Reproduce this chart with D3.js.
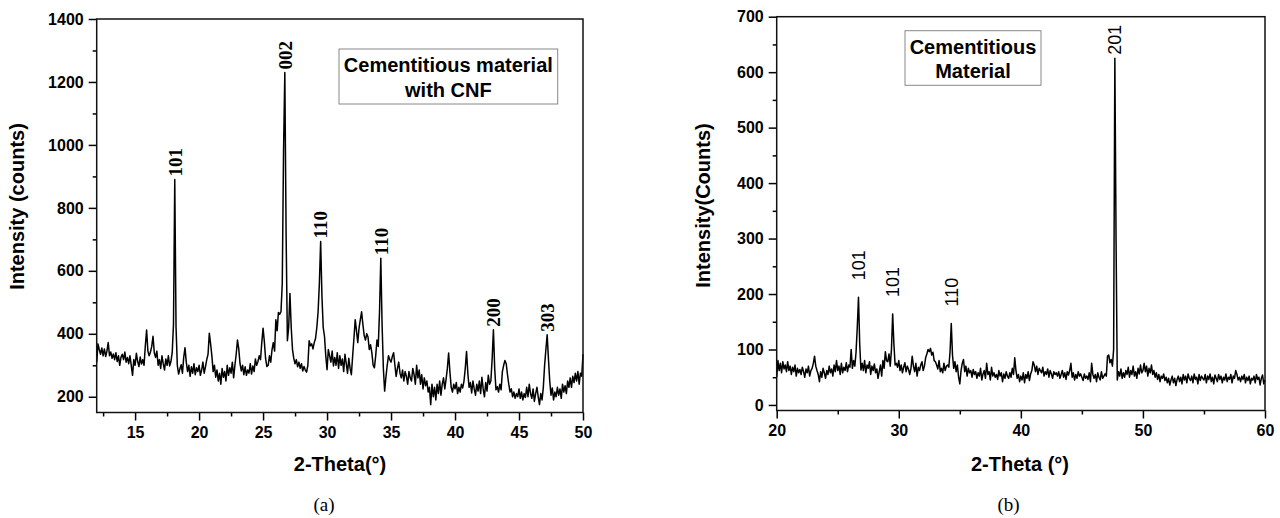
<!DOCTYPE html>
<html>
<head>
<meta charset="utf-8">
<script src="https://cdn.jsdelivr.net/npm/d3@7"></script>
<style>
  html, body { margin: 0; padding: 0; background: #fff; }
  svg { display: block; }
  .tick text { font-family: Arial, "Liberation Sans", sans-serif; font-weight: bold; font-size: 16px; fill: #000; }
  .tick line { stroke: #000; stroke-width: 1.5px; }
</style>
</head>
<body>
<svg id="fig" width="1280" height="518"></svg>
<script>
// ---- (a) cementitious material with CNF: 2θ from 12° to 50°, 0.1° step ----
const thetaStartA = 12.0;
const thetaStepA = 0.1;
const intensityA = [
  310, 368, 350, 335, 355, 330, 352, 328, 345, 372,
  330, 342, 322, 336, 318, 340, 312, 330, 300, 326,
  335, 318, 342, 310, 325, 305, 330, 300, 268, 318,
  300, 338, 312, 296, 326, 304, 318, 300, 362, 412,
  345, 330, 342, 360, 392, 340, 325, 345, 300, 318,
  290, 330, 305, 285, 320, 300, 330, 298, 312, 340,
  430, 890, 420, 300, 272, 288, 302, 275, 325, 356,
  310, 280, 300, 265, 295, 275, 305, 270, 292, 280,
  300, 268, 285, 310, 275, 295, 318, 335, 402, 368,
  330, 280, 300, 262, 285, 250, 275, 240, 290, 262,
  280, 250, 300, 268, 292, 275, 310, 260, 300, 335,
  380, 352, 305, 282, 300, 270, 295, 268, 285, 275,
  305, 272, 298, 280, 320, 300, 312, 330, 318, 372,
  418, 375, 320, 296, 300, 330, 310, 350, 372, 345,
  445, 410, 468, 462, 470, 560, 980, 1230, 720, 378,
  420, 528, 420, 350, 322, 305, 318, 295, 310, 290,
  305, 282, 296, 285, 278, 300, 378, 362, 368, 352,
  372, 385, 420, 470, 560, 693, 520, 420, 392, 330,
  286, 350, 330, 310, 345, 298, 325, 300, 340, 290,
  330, 300, 320, 280, 335, 305, 275, 322, 290, 270,
  330, 385, 445, 410, 372, 418, 445, 470, 430, 395,
  380, 400, 390, 350, 365, 340, 300, 292, 330, 380,
  360, 470, 640, 430, 290, 218, 262, 300, 330, 318,
  310, 328, 340, 300, 265, 290, 310, 275, 260, 285,
  250, 280, 265, 240, 280, 260, 250, 290, 270, 240,
  300, 260, 285, 240, 270, 225, 260, 235, 250, 215,
  230, 175, 240, 200, 230, 190, 240, 210, 250, 205,
  240, 260, 225, 255, 290, 339, 280, 230, 215, 240,
  225, 245, 210, 230, 215, 240, 228, 250, 290, 344,
  275, 230, 245, 212, 250, 225, 205, 240, 218, 250,
  210, 262, 225, 200, 245, 218, 268, 240, 250, 320,
  413, 290, 222, 232, 215, 240, 222, 280, 300, 315,
  305, 270, 240, 215, 225, 200, 215, 195, 210, 200,
  225, 195, 215, 190, 210, 198, 230, 200, 240, 210,
  195, 225, 185, 210, 230, 200, 175, 210, 190, 230,
  300, 350, 397, 320, 250, 205, 228, 190, 215, 200,
  230, 205, 225, 195, 240, 215, 235, 210, 250, 230,
  260, 230, 265, 245, 275, 250, 280, 240, 275, 265,
  335
];
const peaksA = [
  { hkl: "101", at: 18.1 },
  { hkl: "002", at: 26.7 },
  { hkl: "110", at: 29.5 },
  { hkl: "110", at: 34.2 },
  { hkl: "200", at: 43.0 },
  { hkl: "303", at: 47.2 }
];
const xTicksA = [15, 20, 25, 30, 35, 40, 45, 50];
const xMinorA = [12.5, 17.5, 22.5, 27.5, 32.5, 37.5, 42.5, 47.5];
const yTicksA = [200, 400, 600, 800, 1000, 1200, 1400];
const yMinorA = [300, 500, 700, 900, 1100, 1300];
const legendA = ["Cementitious material", "with CNF"];

// ---- (b) cementitious material: 2θ from 20° to 60°, 0.1° step ----
const thetaStartB = 20.0;
const thetaStepB = 0.1;
const intensityB = [
  50, 80, 62, 75, 58, 78, 65, 72, 60, 78,
  62, 70, 55, 68, 60, 72, 52, 66, 58, 64,
  55, 68, 60, 50, 65, 58, 70, 52, 62, 66,
  75, 88, 70, 62, 55, 42, 60, 50, 66, 58,
  48, 62, 55, 70, 58, 65, 52, 72, 60, 80,
  62, 70, 55, 75, 58, 68, 62, 76, 60, 72,
  68, 100, 66, 80, 70, 95, 140, 194, 110, 63,
  75, 62, 80, 58, 72, 66, 78, 55, 70, 62,
  74, 58, 65, 48, 60, 72, 52, 80, 66, 96,
  80, 78, 92, 70, 100, 164, 110, 72, 75, 68,
  80, 62, 72, 58, 68, 76, 60, 70, 64, 55,
  66, 88, 70, 60, 75, 52, 68, 62, 72, 78,
  62, 70, 85, 92, 100, 96, 102, 90, 95, 80,
  78, 72, 65, 80, 60, 66, 58, 75, 62, 70,
  72, 68, 96, 147, 90, 66, 78, 60, 72, 50,
  38, 62, 75, 82, 60, 70, 52, 66, 58, 62,
  50, 64, 55, 60, 48, 58, 52, 66, 45, 56,
  62, 48, 75, 55, 60, 45, 68, 52, 58, 50,
  55, 46, 62, 52, 58, 42, 56, 48, 60, 52,
  48, 58, 50, 66, 55, 85, 62, 48, 55, 42,
  52, 45, 58, 40, 55, 48, 60, 44, 56, 62,
  78, 72, 60, 70, 55, 66, 62, 58, 68, 52,
  60, 55, 65, 50, 62, 56, 48, 60, 55, 58,
  52, 60, 48, 55, 62, 50, 58, 46, 60, 54,
  62, 75, 50, 58, 45, 55, 48, 60, 52, 56,
  50, 44, 56, 48, 52, 46, 58, 42, 75, 55,
  48, 55, 42, 58, 50, 45, 60, 48, 52, 56,
  52, 88, 90, 76, 82, 70, 100, 625, 295, 45,
  60, 52, 65, 48, 58, 50, 62, 55, 68, 50,
  62, 55, 70, 52, 60, 48, 66, 56, 72, 58,
  62, 75, 60, 70, 52, 66, 58, 72, 55, 62,
  50, 58, 46, 55, 42, 52, 48, 56, 44, 50,
  40, 48, 36, 45, 52, 40, 48, 35, 46, 52,
  42, 50, 38, 55, 45, 52, 40, 56, 48, 44,
  52, 40, 56, 46, 50, 38, 55, 44, 52, 48,
  45, 55, 40, 52, 46, 56, 42, 50, 38, 54,
  48, 42, 55, 46, 52, 40, 50, 45, 56, 42,
  50, 46, 55, 40, 52, 48, 62, 55, 45, 50,
  42, 52, 46, 55, 40, 50, 44, 52, 38, 48,
  45, 52, 40, 55, 46, 50, 36, 48, 54, 38,
  45
];
const peaksB = [
  { hkl: "101", at: 26.7 },
  { hkl: "101", at: 29.5 },
  { hkl: "110", at: 34.3 },
  { hkl: "201", at: 47.7 }
];
const xTicksB = [20, 30, 40, 50, 60];
const xMinorB = [25, 35, 45, 55];
const yTicksB = [0, 100, 200, 300, 400, 500, 600, 700];
const yMinorB = [50, 150, 250, 350, 450, 550, 650];
const legendB = ["Cementitious", "Material"];

const SANS = 'Arial, "Liberation Sans", sans-serif';
const SERIF = '"Times New Roman", "Liberation Serif", serif';

const svg = d3.select("#fig");

function toPoints(start, step, values) {
  return values.map((v, i) => ({ t: +(start + i * step).toFixed(2), v }));
}

function peakValue(points, at) {
  return d3.max(points.filter(p => Math.abs(p.t - at) <= 0.15), p => p.v);
}

function drawPanel(cfg) {
  const g = svg.append("g");
  const x = d3.scaleLinear().domain(cfg.xDomain).range([cfg.left, cfg.right]);
  const y = d3.scaleLinear().domain(cfg.yDomain).range([cfg.bottom, cfg.top]);

  // major ticks with labels
  g.append("g")
    .attr("transform", `translate(0,${cfg.bottom})`)
    .call(d3.axisBottom(x).tickValues(cfg.xTicks).tickFormat(d3.format("d")).tickSize(8).tickPadding(6))
    .call(a => a.select(".domain").remove());
  g.append("g")
    .attr("transform", `translate(${cfg.left},0)`)
    .call(d3.axisLeft(y).tickValues(cfg.yTicks).tickFormat(d3.format("d")).tickSize(8).tickPadding(5))
    .call(a => a.select(".domain").remove());
  // minor ticks
  g.append("g")
    .attr("transform", `translate(0,${cfg.bottom})`)
    .call(d3.axisBottom(x).tickValues(cfg.xMinor).tickFormat("").tickSize(4))
    .call(a => a.select(".domain").remove());
  g.append("g")
    .attr("transform", `translate(${cfg.left},0)`)
    .call(d3.axisLeft(y).tickValues(cfg.yMinor).tickFormat("").tickSize(4))
    .call(a => a.select(".domain").remove());

  // pattern trace
  const pts = toPoints(cfg.start, cfg.step, cfg.values);
  g.append("path")
    .datum(pts)
    .attr("fill", "none")
    .attr("stroke", "#000")
    .attr("stroke-width", 1.5)
    .attr("stroke-linejoin", "round")
    .attr("d", d3.line().x(d => x(d.t)).y(d => y(d.v)));

  // frame
  g.append("rect")
    .attr("x", cfg.left).attr("y", cfg.top)
    .attr("width", cfg.right - cfg.left).attr("height", cfg.bottom - cfg.top)
    .attr("fill", "none").attr("stroke", "#111").attr("stroke-width", 1.5);

  // reflection labels
  cfg.peaks.forEach(p => {
    const py = y(peakValue(pts, p.at));
    const yy = Math.max(py - cfg.labelGap, cfg.top + 38);
    g.append("text")
      .attr("transform", `translate(${x(p.at)},${yy}) rotate(-90)`)
      .attr("dy", "0.36em")
      .attr("text-anchor", "start")
      .style("font-family", cfg.labelFont)
      .style("font-weight", cfg.labelWeight)
      .style("font-size", cfg.labelSize + "px")
      .text(p.hkl);
  });

  // legend box
  const lb = cfg.legendBox;
  g.append("rect")
    .attr("x", lb.x).attr("y", lb.y).attr("width", lb.w).attr("height", lb.h)
    .attr("fill", "#fff").attr("stroke", "#888").attr("stroke-width", 1);
  cfg.legend.forEach((line, i) => {
    g.append("text")
      .attr("x", lb.x + lb.w / 2)
      .attr("y", lb.y + 23 + i * 24.5)
      .attr("text-anchor", "middle")
      .style("font-family", SANS).style("font-weight", "bold").style("font-size", "20px")
      .text(line);
  });

  // axis titles
  g.append("text")
    .attr("x", cfg.xTitlePos[0]).attr("y", cfg.xTitlePos[1])
    .attr("text-anchor", "middle")
    .style("font-family", SANS).style("font-weight", "bold").style("font-size", "20px")
    .text(cfg.xTitle);
  g.append("text")
    .attr("transform", `translate(${cfg.yTitlePos[0]},${cfg.yTitlePos[1]}) rotate(-90)`)
    .attr("text-anchor", "middle")
    .style("font-family", SANS).style("font-weight", "bold").style("font-size", "20px")
    .text(cfg.yTitle);

  // panel caption
  g.append("text")
    .attr("x", cfg.captionPos[0]).attr("y", cfg.captionPos[1])
    .attr("text-anchor", "middle")
    .style("font-family", SERIF).style("font-size", "19px")
    .text(cfg.caption);
}

drawPanel({
  xDomain: [12, 50], yDomain: [150, 1400],
  left: 96.7, right: 583, top: 19, bottom: 412.5,
  xTicks: xTicksA, xMinor: xMinorA, yTicks: yTicksA, yMinor: yMinorA,
  start: thetaStartA, step: thetaStepA, values: intensityA,
  peaks: peaksA, labelGap: 3, labelFont: SERIF, labelWeight: "bold", labelSize: 19,
  legend: legendA, legendBox: { x: 339, y: 49, w: 218.7, h: 55 },
  xTitle: "2-Theta(°)", xTitlePos: [340, 471],
  yTitle: "Intensity (counts)", yTitlePos: [24, 206.5],
  caption: "(a)", captionPos: [324, 511]
});

drawPanel({
  xDomain: [20, 60], yDomain: [-10, 700],
  left: 776.7, right: 1265, top: 16.7, bottom: 410.5,
  xTicks: xTicksB, xMinor: xMinorB, yTicks: yTicksB, yMinor: yMinorB,
  start: thetaStartB, step: thetaStepB, values: intensityB,
  peaks: peaksB, labelGap: 17, labelFont: SANS, labelWeight: "normal", labelSize: 18,
  legend: legendB, legendBox: { x: 905, y: 30.7, w: 136, h: 54.6 },
  xTitle: "2-Theta (°)", xTitlePos: [1020, 471],
  yTitle: "Intensity(Counts)", yTitlePos: [710, 205.5],
  caption: "(b)", captionPos: [1008.5, 511]
});
</script>
</body>
</html>
